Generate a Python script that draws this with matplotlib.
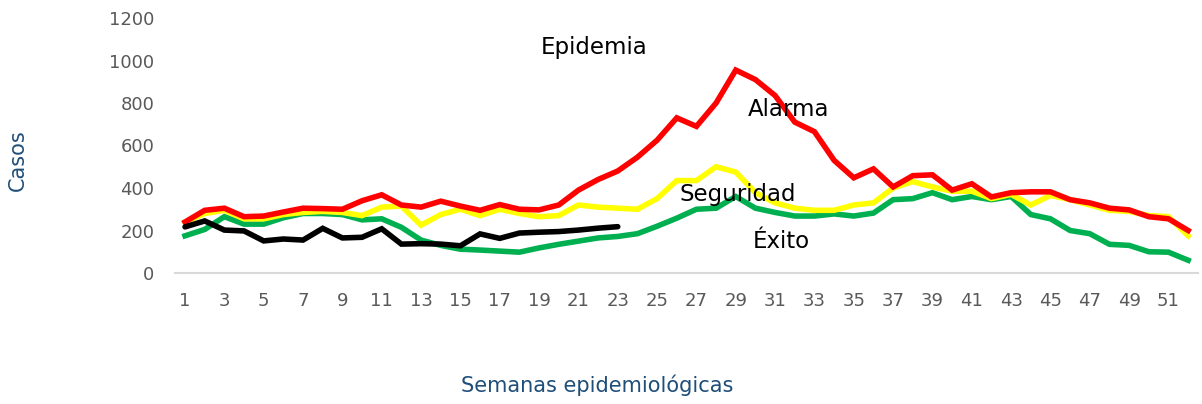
import matplotlib
matplotlib.use("Agg")
import matplotlib.pyplot as plt

weeks = list(range(1, 53))

alarma = [240, 295, 305, 265, 268, 287, 305, 303, 300, 340, 368, 320, 310, 338, 315, 295,
          322, 300, 297, 320, 390, 440, 480, 545, 625, 730, 690, 800, 955, 910, 835, 710,
          665, 530, 448, 490, 405, 458, 462, 390, 420, 358, 378, 382, 382, 345, 330, 305,
          297, 265, 255, 200]

seguridad = [240, 280, 295, 255, 255, 275, 285, 290, 285, 270, 310, 315, 225, 275, 300, 270,
             300, 280, 265, 270, 320, 310, 305, 300, 350, 435, 435, 500, 475, 378, 330, 305,
             295, 295, 320, 330, 400, 430, 405, 385, 385, 350, 370, 320, 365, 345, 320, 295,
             290, 270, 265, 175]

exito = [175, 205, 265, 230, 230, 260, 280, 280, 275, 250, 255, 215, 155, 130, 112, 108,
         103, 98, 118, 135, 150, 165, 172, 185, 220, 258, 300, 305, 360, 305, 285, 268,
         268, 278, 268, 282, 345, 350, 378, 345, 360, 345, 360, 275, 255, 200, 185, 135,
         130, 100, 98, 60]

actual_weeks = list(range(1, 24))
actual = [217, 245, 202, 198, 151, 160, 155, 210, 165, 168, 208, 136, 138, 136, 128, 184,
          163, 188, 192, 195, 202, 211, 218]

tick_weeks = list(range(1, 52, 2))

fig = plt.figure(figsize=(12.02, 4.04), dpi=100)
ax = fig.add_axes([175 / 1202, 1 - 273 / 404, 1023 / 1202, 255 / 404])

lw = 4
ax.plot(weeks, exito, color="#00B050", lw=lw, solid_joinstyle="miter")
ax.plot(weeks, seguridad, color="#FFFF00", lw=lw, solid_joinstyle="miter")
ax.plot(weeks, alarma, color="#FF0000", lw=lw, solid_joinstyle="miter")
ax.plot(actual_weeks, actual, color="#000000", lw=lw, solid_joinstyle="miter",
        solid_capstyle="round")

ax.set_xlim(0.49, 52.5)
ax.set_ylim(0, 1200)
ax.set_yticks(range(0, 1201, 200))
ax.set_xticks(tick_weeks)
ax.tick_params(length=0, labelsize=13, labelcolor="#595959")
ax.tick_params(axis="y", pad=15)
ax.tick_params(axis="x", pad=14)
for s in ["top", "right", "left"]:
    ax.spines[s].set_visible(False)
ax.spines["bottom"].set_color("#d9d9d9")
ax.spines["bottom"].set_linewidth(1.5)

txt = dict(fontsize=16.5, color="#000000", ha="center", va="center")
ax.text(21.8, 1060, "Epidemia", **txt)
ax.text(31.7, 770, "Alarma", **txt)
ax.text(29.1, 370, "Seguridad", **txt)
ax.text(31.3, 150, "Éxito", **txt)

fig.text(18 / 1202, 1 - 160 / 404, "Casos", rotation=90, fontsize=15, color="#1F4E79",
         ha="center", va="center")
fig.text(597 / 1202, 1 - 385 / 404, "Semanas epidemiológicas", fontsize=15,
         color="#1F4E79", ha="center", va="center",
         family=["Liberation Sans Narrow", "DejaVu Sans"])

fig.savefig("out.png", dpi=100)
